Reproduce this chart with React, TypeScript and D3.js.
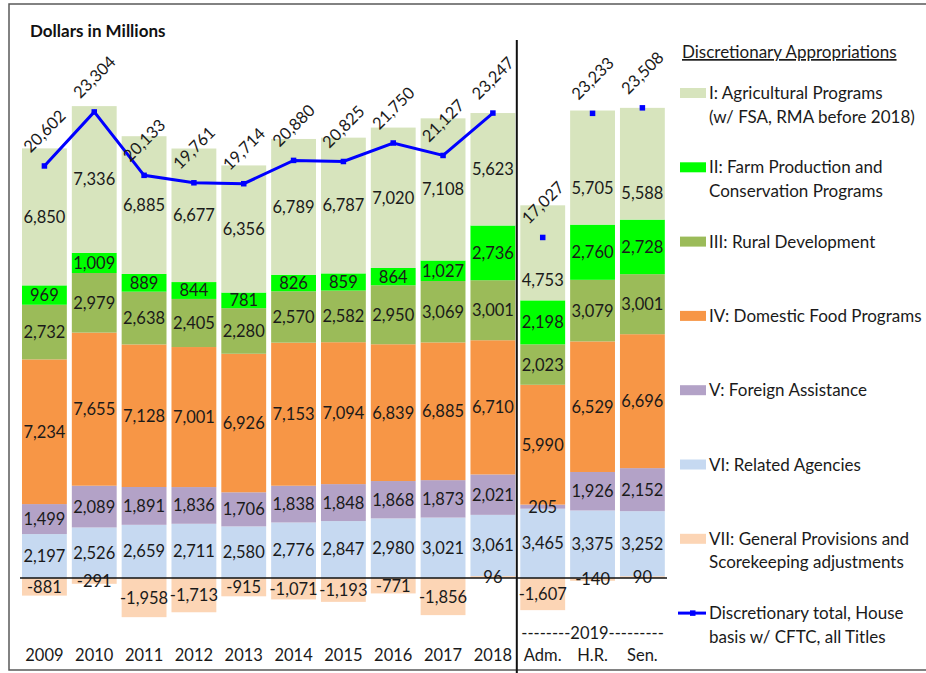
import * as d3 from 'd3';
import React from 'react';

// categories on the x axis
const categories = ['2009', '2010', '2011', '2012', '2013', '2014', '2015', '2016', '2017', '2018', 'Adm.', 'H.R.', 'Sen.'];
const axisLabels = ['2009', '2010', '2011', '2012', '2013', '2014', '2015', '2016', '2017', '2018', 'Adm.', 'H.R.', 'Sen.'];
const groupLabel = '--------2019---------';

// series values, Dollars in Millions
const agricultural = [6850, 7336, 6885, 6677, 6356, 6789, 6787, 7020, 7108, 5623, 4753, 5705, 5588];
const farmProduction = [969, 1009, 889, 844, 781, 826, 859, 864, 1027, 2736, 2198, 2760, 2728];
const ruralDev = [2732, 2979, 2638, 2405, 2280, 2570, 2582, 2950, 3069, 3001, 2023, 3079, 3001];
const domesticFood = [7234, 7655, 7128, 7001, 6926, 7153, 7094, 6839, 6885, 6710, 5990, 6529, 6696];
const foreignAssist = [1499, 2089, 1891, 1836, 1706, 1838, 1848, 1868, 1873, 2021, 205, 1926, 2152];
const relatedAgencies = [2197, 2526, 2659, 2711, 2580, 2776, 2847, 2980, 3021, 3061, 3465, 3375, 3252];
const generalProvisions = [-881, -291, -1958, -1713, -915, -1071, -1193, -771, -1856, 96, -1607, -140, 90];
const totals = [20602, 23304, 20133, 19761, 19714, 20880, 20825, 21750, 21127, 23247, 17027, 23233, 23508];

// stacking order: first key sits nearest the zero line
const seriesKeys = ['VII', 'VI', 'V', 'IV', 'III', 'II', 'I'];
const seriesValues: Record<string, number[]> = {
  I: agricultural,
  II: farmProduction,
  III: ruralDev,
  IV: domesticFood,
  V: foreignAssist,
  VI: relatedAgencies,
  VII: generalProvisions,
};
const colors: Record<string, string> = {
  I: '#D7E4BD',
  II: '#00FF00',
  III: '#9BBB59',
  IV: '#F79646',
  V: '#B3A2C7',
  VI: '#C6D9F1',
  VII: '#FCD5B5',
};

// a few data labels were dragged down by hand in the original chart (pixels)
const labelNudge: Record<string, number> = {
  'I-Adm.': 27,
  'I-H.R.': 20,
  'I-Sen.': 29,
};

const legendItems = [
  { key: 'I', lines: ['I: Agricultural Programs', '(w/ FSA, RMA before 2018)'] },
  { key: 'II', lines: ['II: Farm Production and', 'Conservation Programs'] },
  { key: 'III', lines: ['III: Rural Development'] },
  { key: 'IV', lines: ['IV: Domestic Food Programs'] },
  { key: 'V', lines: ['V: Foreign Assistance'] },
  { key: 'VI', lines: ['VI: Related Agencies'] },
  { key: 'VII', lines: ['VII: General Provisions and', 'Scorekeeping adjustments'] },
  { key: 'line', lines: ['Discretionary total, House', 'basis w/ CFTC, all Titles'] },
];

const font = 'Lato, "Open Sans", sans-serif';
const fmt = d3.formatLocale({ decimal: '.', thousands: ',', grouping: [3], currency: ['$', ''], minus: '-' }).format(',');

export default function App() {
  const width = 926;
  const height = 673;

  const x = d3.scaleBand<string>()
    .domain(categories)
    .range([19.5, 667.3])
    .paddingInner(0.1)
    .paddingOuter(0.05);

  const y = d3.scaleLinear()
    .domain([-3000, 26000])
    .range([638, 58]);

  const table = categories.map((c, i) => {
    const row: Record<string, any> = { cat: c };
    seriesKeys.forEach(k => { row[k] = seriesValues[k][i]; });
    return row;
  });

  const stacked = d3.stack<any>()
    .keys(seriesKeys)
    .offset(d3.stackOffsetDiverging)(table);

  const lineData = categories.slice(0, 10).map((c, i) => ({ cat: c, v: totals[i] }));
  const line = d3.line<{ cat: string; v: number }>()
    .x(d => x(d.cat)! + x.bandwidth() / 2)
    .y(d => y(d.v));

  const bw = x.bandwidth();
  const divider = (x('2018')! + bw + x('Adm.')!) / 2 - 1;
  const zeroY = y(0);

  const legendX = 680;
  const legendY0 = 93;
  const legendStep = 74.3;

  return (
    <svg width={width} height={height} style={{ position: 'absolute', left: 0, top: 0, background: '#fff' }} fontFamily={font}>
      <rect x={9} y={4} width={930} height={666} fill="#fff" stroke="#595959" strokeWidth={1.5} />

      <text x={30} y={37} fontSize={17} fontWeight="bold" fill="#111">Dollars in Millions</text>

      {/* bars */}
      {stacked.map(s => (
        <g key={s.key} fill={colors[s.key]}>
          {s.map((d, i) => (
            <rect
              key={i}
              x={x(categories[i])}
              width={bw}
              y={Math.min(y(d[0]), y(d[1]))}
              height={Math.abs(y(d[0]) - y(d[1]))}
            />
          ))}
        </g>
      ))}

      {/* segment labels */}
      {stacked.map(s => (
        <g key={'lab' + s.key} fontSize={16.5} fill="#1a1a1a" textAnchor="middle">
          {s.map((d, i) => (
            <text
              key={i}
              x={x(categories[i])! + bw / 2}
              y={(y(d[0]) + y(d[1])) / 2 + (labelNudge[s.key + '-' + categories[i]] || 0)}
              dy="0.36em"
            >
              {fmt(seriesValues[s.key][i])}
            </text>
          ))}
        </g>
      ))}

      {/* zero line and divider */}
      <line x1={20} x2={667} y1={zeroY} y2={zeroY} stroke="#111" strokeWidth={1.6} />
      <line x1={divider} x2={divider} y1={40} y2={673} stroke="#111" strokeWidth={2} />

      {/* total line */}
      <path d={line(lineData) || ''} fill="none" stroke="#0000FF" strokeWidth={3} />
      {totals.map((t, i) => {
        const cx = x(categories[i])! + bw / 2;
        const cy = y(t);
        return (
          <g key={'t' + i}>
            <rect x={cx - 2.75} y={cy - 2.75} width={5.5} height={5.5} fill="#0000FF" />
            <text
              transform={`translate(${cx},${cy - 35}) rotate(-45)`}
              textAnchor="middle"
              dy="0.36em"
              fontSize={16.5}
              fill="#1a1a1a"
            >
              {fmt(t)}
            </text>
          </g>
        );
      })}

      {/* x axis labels */}
      <g fontSize={16.5} fill="#1a1a1a" textAnchor="middle">
        {axisLabels.map((l, i) => (
          <text key={l} x={x(categories[i])! + bw / 2} y={661}>{l}</text>
        ))}
        <text x={x('H.R.')! + bw / 2} y={639}>{groupLabel}</text>
      </g>

      {/* legend */}
      <text x={legendX + 2} y={58} fontSize={17} fill="#1a1a1a" textDecoration="underline">
        Discretionary Appropriations
      </text>
      {legendItems.map((item, i) => {
        const cy = legendY0 + i * legendStep;
        return (
          <g key={item.key}>
            {item.key === 'line' ? (
              <g>
                <line x1={legendX - 2} x2={legendX + 26} y1={cy} y2={cy} stroke="#0000FF" strokeWidth={3} />
                <rect x={legendX + 10} y={cy - 2.75} width={5.5} height={5.5} fill="#0000FF" />
              </g>
            ) : (
              <rect x={legendX} y={cy - 5} width={26} height={10} fill={colors[item.key]} />
            )}
            {item.lines.map((ln, j) => (
              <text key={j} x={legendX + 29} y={cy + 6 + j * 23.5} fontSize={17} fill="#1a1a1a">{ln}</text>
            ))}
          </g>
        );
      })}
    </svg>
  );
}
